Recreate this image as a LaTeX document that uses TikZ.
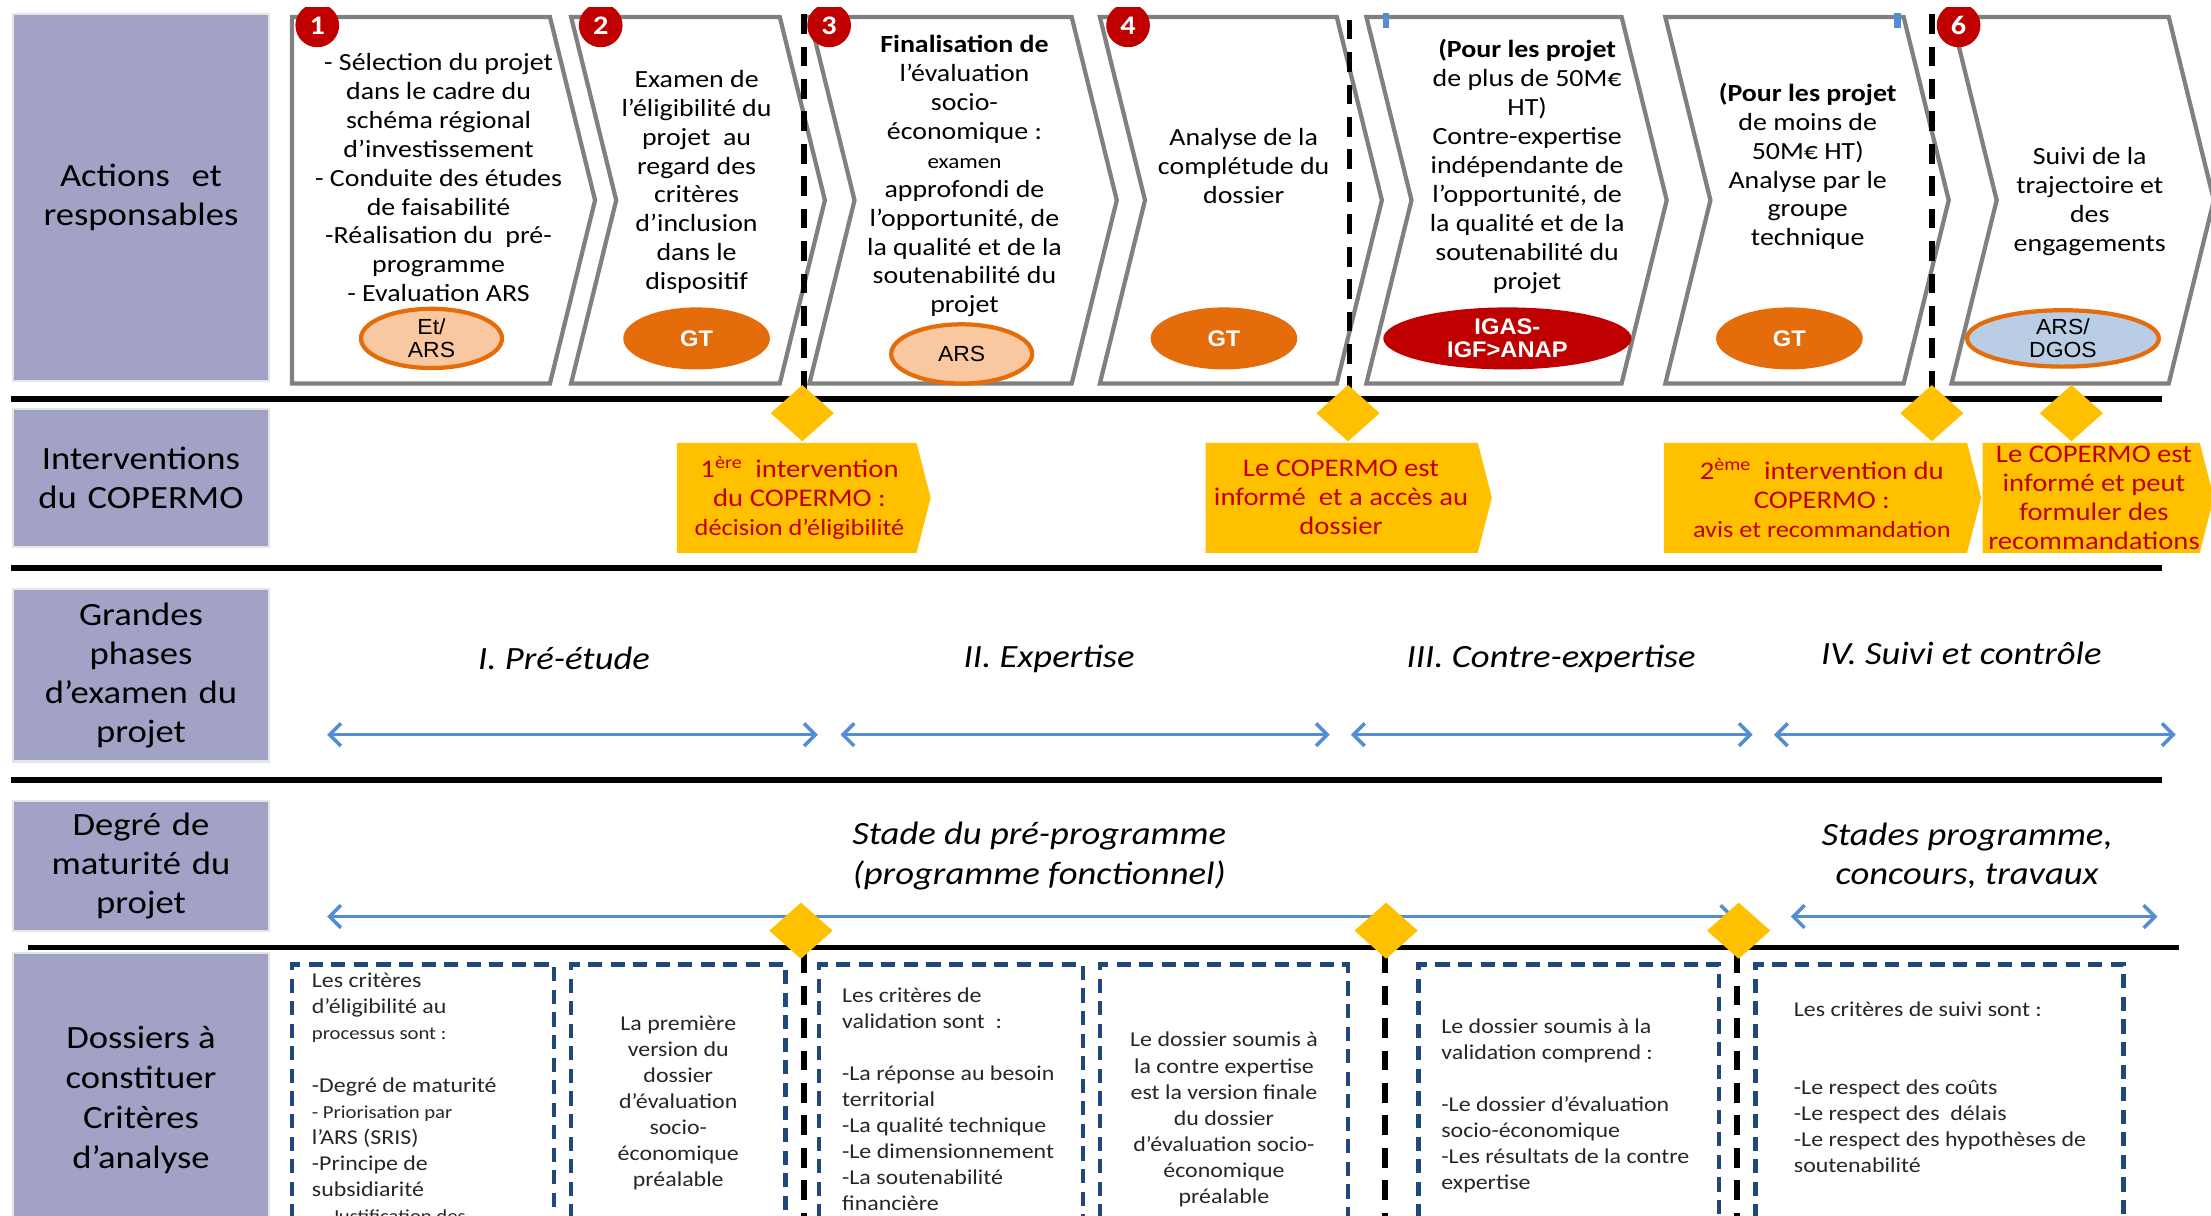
\documentclass[tikz,border=0pt]{standalone}
\usepackage{fontspec}
\setmainfont{Carlito}[FakeStretch=1.13]
\newfontfamily\arialfont{Liberation Sans}[FakeStretch=1.05]
\usetikzlibrary{arrows.meta,positioning,shapes.geometric}

\definecolor{headgrey}{RGB}{162,162,198}
\definecolor{chevgrey}{RGB}{128,128,128}
\definecolor{badgered}{RGB}{192,0,0}
\definecolor{gtorange}{RGB}{228,108,10}
\definecolor{peach}{RGB}{250,200,160}
\definecolor{lightblue}{RGB}{185,205,229}
\definecolor{copyellow}{RGB}{255,192,0}
\definecolor{phaseblue}{RGB}{84,141,212}
\definecolor{navy}{RGB}{31,73,125}

\tikzset{
    %Define standard arrow tip
    >={Straight Barb[length=8pt,width=16pt]},
    %Define style for row headers
    rowhead/.style={
           rectangle,
           fill=headgrey,
           draw=black!10, line width=1.5pt,
           minimum width=182pt,
           text width=178pt,
           align=center,
           inner sep=0pt,
           font=\fontsize{23}{27.5}\selectfont},
    % chevrons of the first row
    chev/.style={draw=chevgrey, line width=3pt, fill=white, line join=miter},
    steptext/.style={align=center, inner sep=0pt, font=\fontsize{17.5}{20.5}\selectfont},
    badge/.style={circle, fill=badgered, text=white, inner sep=0pt,
           minimum size=31pt, font=\bfseries\fontsize{19}{19}\selectfont},
    actor/.style={ellipse, inner sep=0pt, line width=3pt, align=center,
           font=\arialfont\fontsize{15.5}{16}\selectfont},
    gt/.style={actor, fill=gtorange, text=white, minimum width=104pt, minimum height=44pt,
           font=\arialfont\bfseries\fontsize{16}{16.5}\selectfont},
    ars/.style={actor, fill=peach, draw=gtorange, minimum width=100pt, minimum height=42pt},
    % separators
    cut/.style={black, line width=4pt, dash pattern=on 14pt off 9pt},
    rule/.style={black, line width=4pt},
    milestone/.style={diamond, fill=copyellow, inner sep=0pt,
           minimum width=45pt, minimum height=40pt},
    copbox/.style={fill=copyellow},
    coptext/.style={align=center, inner sep=0pt, text=badgered,
           font=\fontsize{18}{20.5}\selectfont},
    % phases
    phase/.style={<->, phaseblue, line width=2.5pt},
    phasetext/.style={align=center, inner sep=0pt, font=\itshape\fontsize{23}{28}\selectfont},
    % bottom boxes
    folder/.style={navy, line width=3pt, dash pattern=on 10pt off 6pt},
    foldertext/.style={align=left, inner sep=0pt, text=black!85,
           font=\fontsize{15}{18.5}\selectfont},
    foldermid/.style={foldertext, align=center}
}

\begin{document}
\begin{tikzpicture}[x=1pt,y=-1pt]
\useasboundingbox (0,0) rectangle (1568,862);
\clip (0,0) rectangle (1568,862);

% row headers
\node[rowhead, minimum height=260pt] (h1) at (100,140) {Actions\ \ et\\responsables};
\node[rowhead, minimum height=98pt] (h2) at (100,339) {Interventions\\du COPERMO};
\node[rowhead, minimum height=122pt] (h3) at (100,479) {Grandes\\phases\\d’examen du\\projet};
\node[rowhead, minimum height=92pt] (h4) at (100,614) {Degré de\\maturité du\\projet};
\node[rowhead, minimum height=200pt, text depth=0pt] (h5) at (100,776) {};
\node[align=center, inner sep=0pt, font=\fontsize{23}{28.5}\selectfont] (h5t) at (100,780) {Dossiers à\\constituer\\Critères\\d’analyse};

% first row: chevrons
\draw[chev] (207,12) -- (390,12) -- (422,142) -- (390,272) -- (207,272) -- cycle;
\foreach \l/\r in {405/553, 574/760, 780/948, 969/1150, 1181/1350, 1384/1538}
  \draw[chev] (\l,12) -- (\r,12) -- (\r+32,142) -- (\r,272) -- (\l,272) -- (\l+32,142) -- cycle;

\draw[cut] (570,10) -- (570,283);
\draw[cut] (957,14) -- (957,283);
\draw[cut] (1370,10) -- (1370,283);

\begin{scope}
\clip (0,5) rectangle (1568,60);
\node[badge] (b1) at (225,18) {1};
\node[badge] (b2) at (426,18) {2};
\node[badge] (b3) at (588,18) {3};
\node[badge] (b4) at (800,18) {4};
\node[badge] (b6) at (1389,18) {6};
\end{scope}
\fill[phaseblue] (981,9) rectangle (985,20);
\fill[phaseblue] (1343,9) rectangle (1348,20);

\node[steptext] (s1) at (311,126) {- Sélection du projet\\dans le cadre du\\schéma régional\\d’investissement\\- Conduite des études\\de faisabilité\\-Réalisation du\ \ pré-\\programme\\- Evaluation ARS};
\node[steptext] (s2) at (494,129) {Examen de\\l’éligibilité du\\projet\ \ au\\regard des\\critères\\d’inclusion\\dans le\\dispositif};
\node[steptext] (s3) at (684,125) {\bfseries Finalisation de\\l’évaluation\\socio-\\économique :\\\mdseries\fontsize{14.5}{20.5}\selectfont examen\\\fontsize{17.5}{20.5}\selectfont approfondi de\\l’opportunité, de\\la qualité et de la\\soutenabilité du\\projet};
\node[steptext] (s4) at (882,118) {Analyse de la\\complétude du\\dossier};
\node[steptext] (s5) at (1083,118) {\bfseries (Pour les projet\\de plus de 50M€\\HT)\\Contre-expertise\\indépendante de\\\mdseries l’opportunité, de\\la qualité et de la\\soutenabilité du\\projet};
\node[steptext] (s6) at (1282,118) {\bfseries (Pour les projet\\de moins de\\50M€ HT)\\Analyse par le\\groupe\\technique};
\node[steptext] (s7) at (1482,143) {Suivi de la\\trajectoire et\\des\\engagements};

\node[ars] (a1) at (306,240) {Et/\\ARS};
\node[gt] (a2) at (494,240) {GT};
\node[ars] (a3) at (682,251) {ARS};
\node[gt] (a4) at (868,240) {GT};
\node[gt, fill=badgered, minimum width=176pt] (a5) at (1069,240) {IGAS-\\IGF>ANAP};
\node[gt] (a6) at (1269,240) {GT};
\node[ars, fill=lightblue, minimum width=136pt, minimum height=40pt] (a7) at (1463,240) {ARS/\\DGOS};

% horizontal rules
\draw[rule] (8,283) -- (1533,283);
\draw[rule] (8,403) -- (1533,403);
\draw[rule] (8,553) -- (1533,553);
\draw[rule] (20,672) -- (1545,672);

% second row: COPERMO
\node[milestone] (m1) at (569,293) {};
\node[milestone] (m2) at (956,293) {};
\node[milestone] (m3) at (1370,293) {};
\node[milestone] (m4) at (1469,293) {};

\fill[copbox] (480,314) -- (650,314) -- (660,353) -- (650,392) -- (480,392) -- cycle;
\fill[copbox] (855,314) -- (1048,314) -- (1058,353) -- (1048,392) -- (855,392) -- cycle;
\fill[copbox] (1180,314) -- (1395,314) -- (1405,353) -- (1395,392) -- (1180,392) -- cycle;
\fill[copbox] (1406,314) -- (1560,314) -- (1570,353) -- (1560,392) -- (1406,392) -- cycle;

\node[coptext] (c1) at (567,353) {1\textsuperscript{ère}\ \ intervention\\du COPERMO :\\\fontsize{16.5}{20.5}\selectfont décision d’éligibilité};
\node[coptext] (c2) at (951,353) {Le COPERMO est\\informé\ \ et a accès au\\dossier};
\node[coptext] (c3) at (1292,353) {2\textsuperscript{ème}\ \ intervention du\\COPERMO :\\\fontsize{16.5}{20.5}\selectfont avis et recommandation};
\node[coptext] (c4) at (1485,353) {Le COPERMO est\\informé et peut\\formuler des\\recommandations};

% third row: phases
\coordinate (p1a) at (232,521); \coordinate (p1b) at (580,521);
\coordinate (p2a) at (596,521); \coordinate (p2b) at (943,521);
\coordinate (p3a) at (958,521); \coordinate (p3b) at (1243,521);
\coordinate (p4a) at (1258,521); \coordinate (p4b) at (1543,521);
\draw[phase] (p1a) -- (p1b);
\draw[phase] (p2a) -- (p2b);
\draw[phase] (p3a) -- (p3b);
\draw[phase] (p4a) -- (p4b);
\node[phasetext] (ph1) at (400,467) {I. Pré-étude};
\node[phasetext] (ph2) at (744,467) {II. Expertise};
\node[phasetext] (ph3) at (1100,467) {III. Contre-expertise};
\node[phasetext] (ph4) at (1391,463) {IV. Suivi et contrôle};

% fourth row: maturity
\coordinate (q1a) at (232,650); \coordinate (q1b) at (1230,650);
\coordinate (q2a) at (1270,650); \coordinate (q2b) at (1530,650);
\draw[phase] (q1a) -- (q1b);
\draw[phase] (q2a) -- (q2b);
\node[phasetext] (st1) at (737,607) {Stade du pré-programme\\(programme fonctionnel)};
\node[phasetext] (st2) at (1395,607) {Stades programme,\\concours, travaux};

% fifth row: folders
\foreach \l/\r in {207/393, 405/557, 581/768, 780/956, 1006/1219, 1245/1506}
  \draw[folder] (\l,880) -- (\l,684) -- (\r,684) -- (\r,880);
\draw[cut] (570,676) -- (570,880);
\draw[cut] (982,676) -- (982,880);
\draw[cut] (1232,676) -- (1232,880);
\node[milestone] (m5) at (568,660) {};
\node[milestone] (m6) at (983,660) {};
\node[milestone] (m7) at (1233,660) {};

\node[foldertext, anchor=north west] (f1) at (221,690) {Les critères\\d’éligibilité au\\{\fontsize{13}{18.5}\selectfont processus sont :}\\[18.5pt]-Degré de maturité\\{\fontsize{13}{18.5}\selectfont - Priorisation par}\\l’ARS (SRIS)\\-Principe de\\subsidiarité\\{\fontsize{13}{18.5}\selectfont\ \ - Justification des}};
\node[foldermid] (f2) at (481,782) {La première\\version du\\dossier\\d’évaluation\\socio-\\économique\\préalable};
\node[foldertext, anchor=north west] (f3) at (597,700) {Les critères de\\validation sont\ \ :\\[18.5pt]-La réponse au besoin\\territorial\\-La qualité technique\\-Le dimensionnement\\-La soutenabilité\\financière};
\node[foldermid] (f4) at (868,794) {Le dossier soumis à\\la contre expertise\\est la version finale\\du dossier\\d’évaluation socio-\\économique\\préalable};
\node[foldertext, anchor=north west] (f5) at (1022,722) {Le dossier soumis à la\\validation comprend :\\[18.5pt]-Le dossier d’évaluation\\socio-économique\\-Les résultats de la contre\\expertise};
\node[foldertext, anchor=north west] (f6) at (1272,710) {Les critères de suivi sont :\\[37pt]-Le respect des coûts\\-Le respect des\ \ délais\\-Le respect des hypothèses de\\soutenabilité};
\end{tikzpicture}
\end{document}
